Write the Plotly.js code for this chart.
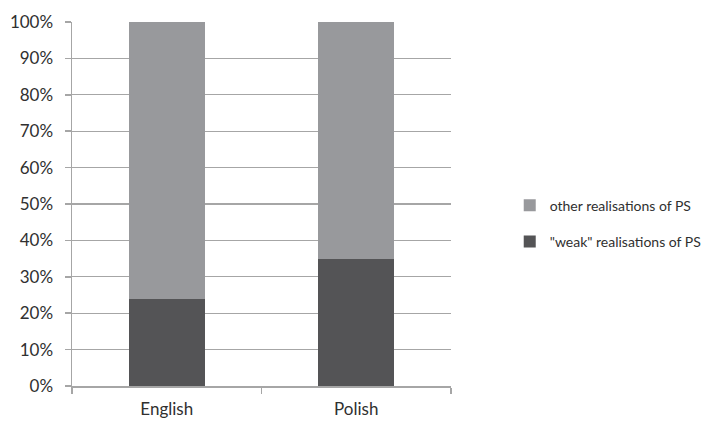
<!DOCTYPE html>
<html><head><meta charset="utf-8">
<script src="https://cdn.plot.ly/plotly-3.0.1.min.js"></script>
<style>body{margin:0;background:#fff}#chart{width:706px;height:422px}</style>
</head><body><div id="chart"></div>
<script>
const categories = ["English", "Polish"];
const weakValues = [24, 35];
const otherValues = [76, 65];
const seriesNames = ["\"weak\" realisations of PS", "other realisations of PS"];
const yTicks = [0,10,20,30,40,50,60,70,80,90,100];

const axisFont = {family: "Lato, 'Open Sans', sans-serif", size: 17, color: "#303030"};
const legendFont = {family: "Lato, 'Open Sans', sans-serif", size: 14, color: "#303030"};
const traces = [
  {type: "bar", x: categories, y: weakValues, name: seriesNames[0], marker: {color: "#545456"}, width: 0.4, legendgroup: "weak", legendrank: 2, hoverinfo: "y"},
  {type: "bar", x: categories, y: otherValues, name: seriesNames[1], marker: {color: "#98999c"}, width: 0.4, legendgroup: "other", legendrank: 1, hoverinfo: "y"}
];
const layout = {
  width: 706, height: 422,
  margin: {l: 72, r: 255, t: 22, b: 36},
  barmode: "stack",
  paper_bgcolor: "#fff", plot_bgcolor: "#fff",
  font: axisFont,
  showlegend: true,
  legend: {xref: "container", x: 0.722, xanchor: "left", yref: "container", y: 0.47, yanchor: "middle",
           traceorder: "grouped", tracegroupgap: 15, font: legendFont, itemwidth: 30},
  xaxis: {
    showline: true, linecolor: "#a6a6a6", linewidth: 1.5,
    ticks: "outside", tickson: "boundaries", ticklen: 6, tickcolor: "#a6a6a6", tickwidth: 1.5,
    showgrid: false, tickfont: axisFont, fixedrange: true, ticklabelstandoff: 7
  },
  yaxis: {
    range: [0, 100], tickvals: yTicks, ticktext: yTicks.map(v => v + "%"),
    showline: true, linecolor: "#a6a6a6", linewidth: 1.5,
    ticks: "outside", ticklen: 6, tickcolor: "#a6a6a6", tickwidth: 1.5,
    showgrid: true, gridcolor: "#a6a6a6", gridwidth: 1.2,
    zeroline: false, tickfont: axisFont, ticklabelstandoff: 8
  }
};
Plotly.newPlot("chart", traces, layout, {displayModeBar: false, staticPlot: true});
</script></body></html>
